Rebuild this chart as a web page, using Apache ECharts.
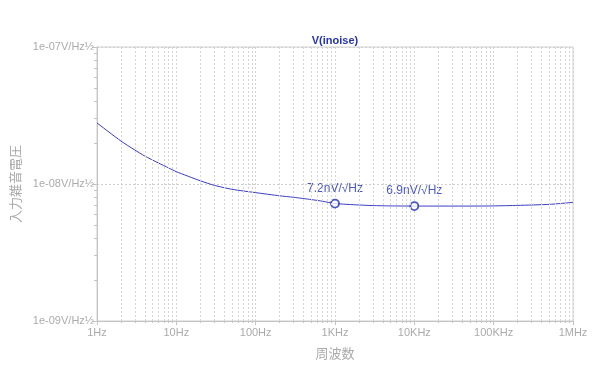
<!DOCTYPE html>
<html>
<head>
<meta charset="utf-8">
<script src="https://cdn.jsdelivr.net/npm/echarts@6/dist/echarts.min.js"></script>
<style>html,body{margin:0;padding:0;background:#fff}#c{width:600px;height:381px}</style>
</head>
<body>
<div id="c"></div>
<script>
// ---- data ----
var title = 'V(inoise)';
var xName = '周波数';
var yName = '入力雑音電圧';
var freqs = [1, 2, 3, 4, 6, 8, 10, 20, 30, 50, 70, 100, 200, 300, 500, 700, 1000, 2000, 3000, 5000, 10000, 20000, 50000, 100000, 200000, 500000, 1000000];
var noise = [2.79e-8, 2.06e-8, 1.77e-8, 1.60e-8, 1.42e-8, 1.31e-8, 1.23e-8, 1.056e-8, 9.78e-9, 9.15e-9, 8.89e-9, 8.65e-9, 8.2e-9, 8.0e-9, 7.7e-9, 7.48e-9, 7.2e-9, 7.03e-9, 6.96e-9, 6.92e-9, 6.9e-9, 6.9e-9, 6.9e-9, 6.92e-9, 6.98e-9, 7.1e-9, 7.34e-9];
var markerFreqs = [1000, 10000];
var markerVals = [7.2e-9, 6.9e-9];
var markerLabels = ['7.2nV/√Hz', '6.9nV/√Hz'];
var xTickValues = [1, 10, 100, 1000, 10000, 100000, 1000000];
var xTickLabels = ['1Hz', '10Hz', '100Hz', '1KHz', '10KHz', '100KHz', '1MHz'];
var yTickValues = [1e-9, 1e-8, 1e-7];
var yTickLabels = ['1e-09V/Hz½', '1e-08V/Hz½', '1e-07V/Hz½'];
var minorMult = [2, 3, 4, 5, 6, 7, 8, 9];

// ---- build ----
var xMin = 1, xMax = 1000000, yMin = 1e-9, yMax = 1e-7;
var gridX = [], minorXExp = [], minorYExp = [];
for (var d = xMin; d < xMax; d *= 10) {
  for (var i = 0; i < minorMult.length; i++) {
    gridX.push({xAxis: d * minorMult[i]});
    minorXExp.push(Math.log10(d * minorMult[i]));
  }
}
for (var e = yMin; e < yMax * 0.99; e *= 10) {
  for (var j = 0; j < minorMult.length; j++) minorYExp.push(Math.log10(e * minorMult[j]));
}
function lookup(vals, labels, v) {
  for (var i = 0; i < vals.length; i++) {
    if (Math.abs(Math.log10(v) - Math.log10(vals[i])) < 1e-6) return labels[i];
  }
  return '';
}
var gray = '#ababab';
var tickC = '#c4c4c4';
var font = 'Liberation Sans, Arial, sans-serif';
var chart = echarts.init(document.getElementById('c'), null, {renderer: 'canvas'});
chart.setOption({
  animation: false,
  title: {
    text: title, left: 330, top: 30, textAlign: 'center',
    textStyle: {color: '#2433b8', fontSize: 11, fontWeight: 'bold', fontFamily: font}
  },
  grid: {left: 97, right: 27, top: 47, bottom: 60, show: true, borderColor: '#cfcfcf', borderWidth: 1},
  xAxis: [{
    type: 'log', logBase: 10, min: xMin, max: xMax,
    name: xName, nameLocation: 'middle', nameGap: 26,
    nameTextStyle: {color: gray, fontSize: 13, fontFamily: 'Noto Sans CJK JP'},
    axisLine: {show: true, lineStyle: {color: tickC}},
    axisTick: {show: true, length: 4, lineStyle: {color: tickC}},
    axisLabel: {color: gray, fontSize: 11, fontFamily: font, margin: 6,
      formatter: function (v) { return lookup(xTickValues, xTickLabels, v); }},
    splitLine: {show: true, lineStyle: {color: '#d4d4d4', type: [2, 2]}}
  }, {
    type: 'value', min: Math.log10(xMin), max: Math.log10(xMax), position: 'bottom',
    axisLine: {show: false},
    axisTick: {show: true, length: 2, customValues: minorXExp, lineStyle: {color: tickC}},
    axisLabel: {show: false},
    splitLine: {show: false}
  }],
  yAxis: [{
    type: 'log', logBase: 10, min: yMin, max: yMax,
    name: yName, nameLocation: 'middle', nameGap: 73, nameRotate: 90,
    nameTextStyle: {color: gray, fontSize: 13, fontFamily: 'Noto Sans CJK JP'},
    axisLine: {show: true, lineStyle: {color: tickC}},
    axisTick: {show: true, length: 5, lineStyle: {color: tickC}},
    axisLabel: {color: gray, fontSize: 11, fontFamily: font, margin: 3,
      formatter: function (v) { return lookup(yTickValues, yTickLabels, v); }},
    splitLine: {show: true, lineStyle: {color: '#cfcfcf', type: [2, 2]}}
  }, {
    type: 'value', min: Math.log10(yMin), max: Math.log10(yMax), position: 'left',
    axisLine: {show: false},
    axisTick: {show: true, length: 3, customValues: minorYExp, lineStyle: {color: tickC}},
    axisLabel: {show: false},
    splitLine: {show: false}
  }],
  series: [
    {
      type: 'line', data: freqs.map(function (f, i) { return [f, noise[i]]; }),
      showSymbol: false, smooth: 0.2, lineStyle: {color: '#3b3bc4', width: 1},
      markLine: {
        silent: true, symbol: 'none', label: {show: false},
        lineStyle: {color: '#d4d4d4', type: [2, 2], width: 1},
        data: gridX
      },
      z: 3
    },
    {
      type: 'scatter', symbol: 'circle', symbolSize: 8,
      itemStyle: {color: '#fff', borderColor: '#1f30b5', borderWidth: 1.8},
      data: markerFreqs.map(function (f, i) { return [f, markerVals[i]]; }),
      label: {show: true, position: 'top', distance: 4, color: '#1f30b5', fontSize: 12, fontFamily: font,
        formatter: function (p) { return markerLabels[p.dataIndex]; }},
      z: 4
    }
  ]
});
</script>
</body>
</html>
